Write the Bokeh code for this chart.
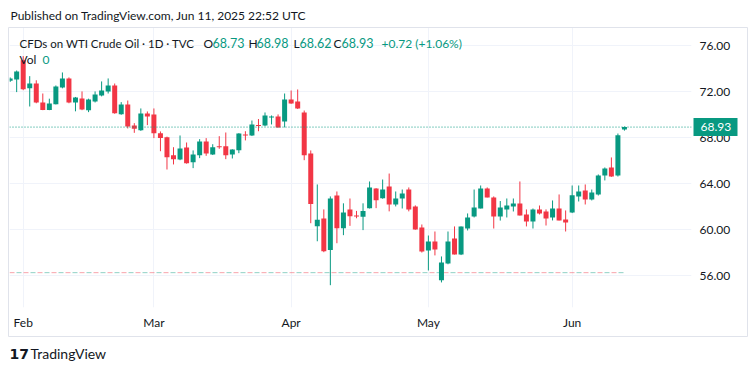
import numpy as np
import pandas as pd
from bokeh.plotting import figure
from bokeh.models import ColumnDataSource, FixedTicker, Label, Span, NumeralTickFormatter, Range1d
from bokeh.core.properties import value
from bokeh.embed import file_html
from bokeh.resources import INLINE

# ---------------- data ----------------
DATES = [d for d in pd.bdate_range("2025-01-30", "2025-06-12") if d != pd.Timestamp("2025-04-18")]

OPEN = [72.95, 73.07, 74.75, 72.31, 72.72, 71.07, 70.42, 70.92, 72.37, 73.16,
        71.07, 71.42, 70.40, 71.16, 71.68, 72.02, 72.55, 70.05, 70.90, 69.07,
        68.66, 70.11, 70.03, 68.40, 68.05, 66.49, 66.11, 67.16, 65.88, 66.49,
        67.68, 66.55, 67.27, 67.27, 66.55, 66.92, 68.29, 68.20, 69.11, 69.07,
        69.77, 69.85, 69.42, 71.33, 71.16, 70.20, 66.63, 60.31, 60.98, 58.23,
        62.98, 60.14, 61.76, 61.24, 61.13, 61.88, 63.59, 62.75, 63.77, 62.20,
        62.72, 63.50, 62.03, 60.20, 58.20, 58.98, 55.60, 57.07, 59.24, 57.85,
        60.11, 61.16, 61.85, 63.59, 62.81, 61.16, 61.77, 62.03, 62.29, 61.33,
        60.72, 61.77, 61.59, 61.07, 61.85, 60.90, 61.50, 62.90, 63.42, 62.64,
        63.07, 64.72, 65.42, 64.72, 68.73]
HIGH = [73.25, 73.85, 75.10, 73.36, 73.00, 71.85, 71.40, 72.55, 73.68, 73.25,
        71.55, 72.03, 71.40, 72.03, 72.90, 73.16, 72.72, 71.10, 71.24, 69.27,
        70.55, 70.29, 70.55, 68.55, 68.10, 67.18, 68.20, 67.59, 66.90, 67.88,
        67.97, 67.44, 68.14, 68.46, 67.00, 68.40, 68.57, 69.50, 69.63, 70.20,
        69.94, 70.03, 71.85, 72.11, 72.20, 70.37, 66.90, 63.94, 61.77, 62.90,
        63.33, 62.30, 62.72, 61.64, 62.30, 64.20, 63.62, 64.37, 64.89, 63.33,
        63.50, 63.68, 62.12, 60.46, 59.50, 59.85, 57.68, 59.85, 60.29, 60.29,
        61.42, 63.50, 63.85, 63.68, 62.90, 62.50, 62.72, 62.72, 64.20, 61.77,
        61.85, 62.11, 61.77, 62.55, 63.07, 61.68, 63.85, 63.85, 63.94, 63.50,
        64.81, 65.42, 66.29, 68.37, 68.98]
LOW = [72.85, 71.97, 72.14, 70.72, 71.00, 70.40, 70.40, 70.90, 72.30, 71.00,
       70.30, 70.40, 70.23, 71.07, 71.60, 71.85, 70.09, 70.00, 68.81, 68.43,
       68.60, 69.10, 67.97, 66.83, 65.24, 65.68, 66.05, 65.75, 65.36, 66.23,
       66.43, 66.50, 67.04, 66.14, 66.20, 66.66, 67.77, 68.15, 68.57, 69.00,
       69.16, 68.88, 68.90, 70.95, 70.50, 66.05, 60.57, 59.00, 58.05, 55.18,
       58.83, 59.53, 60.34, 61.00, 59.97, 61.85, 61.88, 62.70, 61.60, 62.03,
       61.85, 61.60, 60.00, 58.02, 56.46, 57.77, 55.42, 57.00, 57.85, 57.80,
       59.94, 61.07, 61.85, 62.81, 60.11, 60.80, 61.07, 61.59, 61.24, 60.29,
       60.11, 61.33, 60.37, 60.81, 60.81, 59.85, 61.45, 62.46, 62.20, 62.55,
       62.98, 64.29, 64.60, 64.63, 68.62]
CLOSE = [73.15, 73.77, 72.23, 72.72, 71.07, 70.42, 70.98, 72.46, 73.16, 71.07,
         71.50, 70.46, 71.33, 71.77, 72.11, 72.55, 70.14, 70.90, 68.98, 68.78,
         70.11, 69.85, 68.40, 67.97, 66.31, 66.14, 67.07, 65.79, 66.55, 67.68,
         66.63, 67.18, 67.18, 66.49, 66.98, 68.37, 68.20, 69.16, 69.03, 69.94,
         69.85, 68.90, 71.33, 70.98, 70.55, 66.49, 62.23, 60.87, 58.14, 62.72,
         60.14, 61.50, 61.18, 61.16, 61.63, 63.68, 62.57, 63.50, 62.20, 62.72,
         63.15, 61.77, 60.03, 58.11, 58.98, 58.29, 57.16, 58.98, 57.85, 60.29,
         61.07, 61.94, 63.59, 62.81, 61.16, 61.94, 62.11, 62.29, 61.24, 60.72,
         61.77, 61.42, 60.98, 61.85, 60.81, 60.63, 63.00, 63.33, 62.64, 63.24,
         64.72, 65.33, 64.63, 68.21, 68.93]

PRICE_TICKS = [56, 60, 64, 68, 72, 76]
REF_LEVEL = 56.27          # dashed reference level
SYMBOL = "CFDs on WTI Crude Oil · 1D · TVC"
PUBLISHED = "Published on TradingView.com, Jun 11, 2025 22:52 UTC"

# ---------------- styling / layout ----------------
UP, DOWN = "#089981", "#F23645"
TEXT = "#131722"
GRID = "#F0F3FA"
BORDER = "#E0E3EB"
FONT = "Lato"

W, H = 754, 371
FR_L, FR_R, FR_T, FR_B = 9, 691, 27, 307      # price pane on the page
X0, X1 = -0.096, 104.26
Y0, Y1 = 53.24, 77.59


def dx(px):
    return X0 + (px - FR_L) * (X1 - X0) / (FR_R - FR_L)


def dy(py):
    return Y0 + (FR_B - py) * (Y1 - Y0) / (FR_B - FR_T)


idx = np.arange(len(DATES))
o, h, l, c = map(np.array, (OPEN, HIGH, LOW, CLOSE))
colors = [UP if cc >= oo else DOWN for oo, cc in zip(o, c)]
src = ColumnDataSource(dict(x=idx, high=h, low=l,
                            top=np.maximum(o, c), bottom=np.minimum(o, c), color=colors))

months = pd.Series(DATES).dt.to_period("M")
first_of_month = [int(i) for i in idx[1:] if months[i] != months[i - 1]]
month_labels = {i: DATES[i].strftime("%b") for i in first_of_month}

p = figure(width=W, height=H, title=None,
           x_range=Range1d(X0, X1), y_range=Range1d(Y0, Y1),
           output_backend="svg", toolbar_location=None, y_axis_location="right",
           min_border_left=FR_L, min_border_right=W - FR_R,
           min_border_top=FR_T, min_border_bottom=H - FR_B)
p.background_fill_color = "white"
p.border_fill_color = "white"
p.outline_line_color = None

p.xaxis.ticker = FixedTicker(ticks=first_of_month)
p.xaxis.major_label_overrides = month_labels
p.yaxis.ticker = FixedTicker(ticks=PRICE_TICKS)
p.yaxis.formatter = NumeralTickFormatter(format="0.00")
for ax in (p.xaxis[0], p.yaxis[0]):
    ax.axis_line_color = None
    ax.major_tick_line_color = None
    ax.minor_tick_line_color = None
    ax.major_tick_out = 0
    ax.major_tick_in = 0
    ax.minor_tick_out = 0
    ax.major_label_text_font = FONT
    ax.major_label_text_font_size = "12px"
    ax.major_label_text_color = TEXT
p.xaxis.major_label_standoff = 7
p.yaxis.major_label_standoff = 8
p.xgrid.ticker = FixedTicker(ticks=first_of_month)
p.ygrid.ticker = FixedTicker(ticks=PRICE_TICKS)
p.grid.grid_line_color = GRID

# outer chart border (drawn above the frame so it is not clipped)
p.rect(x=[dx((8 + 747) / 2)], y=[dy((27 + 336) / 2)], width=747 - 8, height=336 - 27,
       width_units="screen", height_units="screen", fill_color=None,
       line_color=BORDER, line_width=1, level="overlay")

# dashed reference level (alternating red / teal)
lx = [X0, idx[-1]]
p.line(lx, [REF_LEVEL, REF_LEVEL], line_color=DOWN, line_alpha=0.45, line_width=1, line_dash="5 9")
p.line(lx, [REF_LEVEL, REF_LEVEL], line_color=UP, line_alpha=0.45, line_width=1, line_dash="5 9",
       line_dash_offset=7)

# last price dotted line
p.add_layout(Span(location=CLOSE[-1], dimension="width", line_color=UP, line_width=1, line_dash="1 2"))

# candles
p.segment(x0="x", y0="low", x1="x", y1="high", line_color="color", line_width=1, source=src)
p.vbar(x="x", width=0.765, top="top", bottom="bottom", fill_color="color", line_color=None, source=src)


def lab(text, px, py, size="12px", color=TEXT):
    return Label(x=px - FR_L, y=FR_B - py, x_units="screen", y_units="screen", text=text,
                 text_font=FONT, text_font_size=size, text_color=color,
                 text_align="left", text_baseline="middle")


chg = CLOSE[-1] - CLOSE[-2]
for lb in [
    lab(SYMBOL, 19, 42.5, size="11.5px"),
    lab("O", 203, 42.5), lab(f"{OPEN[-1]:.2f}", 212, 42.5, color=UP, size="12.5px"),
    lab("H", 248, 42.5), lab(f"{HIGH[-1]:.2f}", 256, 42.5, color=UP, size="12.5px"),
    lab("L", 293, 42.5), lab(f"{LOW[-1]:.2f}", 299, 42.5, color=UP, size="12.5px"),
    lab("C", 333, 42.5), lab(f"{CLOSE[-1]:.2f}", 341, 42.5, color=UP, size="12.5px"),
    lab(f"{chg:+.2f} ({chg / CLOSE[-2] * 100:+.2f}%)", 381, 42.5, color=UP),
    lab("Vol", 19, 59), lab("0", 42, 59, color=UP),
]:
    p.add_layout(lb)


def outside_text(text, px, py, size="12px", color=TEXT, font=FONT, style="normal", align="left", y=None):
    p.text(x=[dx(px)], y=[dy(py) if y is None else y], text=[text], text_font=value(font),
           text_font_size=size, text_font_style=style, text_color=color,
           text_align=align, text_baseline="middle", level="overlay")


outside_text(PUBLISHED, 10, 15, size="12px")
outside_text("17", 9, 353, size="14px", font="DejaVu Sans", style="bold")
outside_text("TradingView", 30, 353, size="14px")

# last-price tag on the price scale
p.rect(x=[dx(715)], y=[CLOSE[-1]], width=44, height=18, width_units="screen", height_units="screen",
       fill_color=UP, line_color=None, level="overlay")
outside_text(f"{CLOSE[-1]:.2f}", 700, 0, size="12px", color="white", y=CLOSE[-1])

open("out.html", "w").write(file_html(p, INLINE))
